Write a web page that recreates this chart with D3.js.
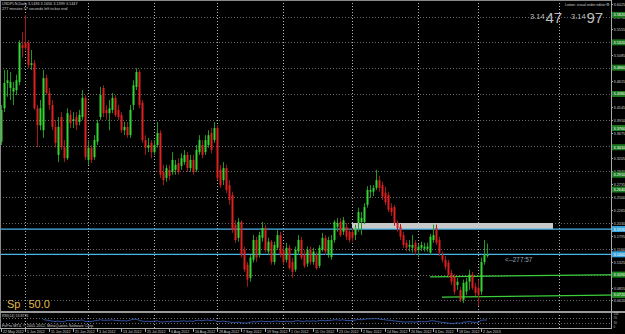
<!DOCTYPE html>
<html>
<head>
<meta charset="utf-8">
<script src="https://cdn.jsdelivr.net/npm/d3@7"></script>
<style>
  html, body { margin: 0; padding: 0; background: #000; }
  svg { display: block; }
  text { font-family: "Liberation Sans", Arial, sans-serif; }
</style>
</head>
<body>
<svg id="chart" width="625" height="334"></svg>
<script>
// USDPLN daily, 22 May 2012 .. 2 Jan 2013
const opens = [
  3.351,3.412,3.458,3.449,3.442,3.445,3.460,3.527,3.531,3.531,
  3.491,3.494,3.412,3.381,3.372,3.467,3.440,3.418,3.378,3.327,
  3.396,3.341,3.321,3.400,3.389,3.396,3.387,3.396,3.431,3.318,
  3.340,3.323,3.351,3.396,3.449,3.409,3.403,3.409,3.431,3.409,
  3.400,3.372,3.378,3.363,3.418,3.451,3.478,3.422,3.354,3.340,
  3.349,3.332,3.345,3.367,3.296,3.285,3.300,3.296,3.300,3.312,
  3.307,3.314,3.327,3.303,3.318,3.300,3.332,3.345,3.332,3.345,
  3.367,3.354,3.376,3.300,3.281,3.303,3.272,3.254,3.200,3.176,
  3.205,3.154,3.127,3.103,3.136,3.172,3.145,3.176,3.194,3.151,
  3.169,3.132,3.158,3.181,3.154,3.136,3.158,3.132,3.118,3.151,
  3.172,3.145,3.129,3.154,3.132,3.145,3.125,3.154,3.176,3.145,
  3.141,3.172,3.196,3.205,3.187,3.196,3.187,3.187,3.181,3.203,
  3.205,3.205,3.236,3.260,3.260,3.267,3.281,3.272,3.258,3.254,
  3.231,3.232,3.203,3.196,3.181,3.167,3.160,3.158,3.167,3.154,
  3.158,3.156,3.156,3.149,3.172,3.194,3.172,3.145,3.136,3.131,
  3.112,3.105,3.090,3.081,3.063,3.078,3.096,3.109,3.087,3.085,
  3.078,3.132,3.1436
];
const highs = [
  3.418,3.482,3.482,3.478,3.460,3.473,3.536,3.551,3.582,3.536,
  3.518,3.500,3.418,3.427,3.482,3.473,3.449,3.427,3.391,3.396,
  3.405,3.354,3.412,3.409,3.405,3.405,3.409,3.445,3.436,3.354,
  3.345,3.363,3.391,3.451,3.454,3.418,3.427,3.440,3.436,3.418,
  3.405,3.387,3.387,3.418,3.463,3.485,3.482,3.427,3.363,3.358,
  3.354,3.354,3.387,3.372,3.309,3.309,3.309,3.332,3.318,3.321,
  3.330,3.336,3.332,3.327,3.327,3.345,3.363,3.354,3.363,3.372,
  3.376,3.387,3.381,3.309,3.314,3.309,3.281,3.260,3.208,3.212,
  3.208,3.160,3.132,3.145,3.181,3.178,3.187,3.205,3.200,3.176,
  3.172,3.169,3.190,3.187,3.160,3.167,3.163,3.140,3.160,3.181,
  3.178,3.154,3.160,3.160,3.158,3.151,3.163,3.185,3.181,3.178,
  3.181,3.208,3.212,3.212,3.214,3.203,3.194,3.194,3.200,3.231,
  3.223,3.239,3.270,3.272,3.272,3.300,3.289,3.278,3.269,3.260,
  3.239,3.236,3.208,3.201,3.187,3.172,3.172,3.181,3.172,3.165,
  3.169,3.167,3.167,3.183,3.200,3.200,3.178,3.151,3.143,3.136,
  3.118,3.110,3.103,3.087,3.100,3.103,3.118,3.114,3.094,3.100,
  3.140,3.172,3.1656
];
const lows = [
  3.345,3.405,3.433,3.427,3.418,3.436,3.454,3.505,3.518,3.485,
  3.482,3.409,3.341,3.372,3.358,3.436,3.409,3.372,3.340,3.314,
  3.336,3.314,3.318,3.376,3.376,3.372,3.381,3.391,3.318,3.309,
  3.312,3.318,3.345,3.391,3.396,3.391,3.372,3.403,3.396,3.391,
  3.367,3.363,3.358,3.358,3.409,3.445,3.412,3.349,3.327,3.332,
  3.321,3.327,3.340,3.285,3.272,3.278,3.281,3.291,3.291,3.291,
  3.300,3.309,3.296,3.296,3.291,3.296,3.327,3.321,3.327,3.340,
  3.330,3.349,3.281,3.267,3.272,3.258,3.236,3.185,3.167,3.169,
  3.140,3.114,3.087,3.096,3.131,3.132,3.140,3.169,3.149,3.145,
  3.127,3.127,3.154,3.140,3.127,3.131,3.118,3.103,3.114,3.145,
  3.136,3.121,3.123,3.127,3.127,3.118,3.121,3.151,3.145,3.140,
  3.136,3.167,3.187,3.178,3.181,3.172,3.167,3.169,3.172,3.187,
  3.181,3.201,3.231,3.249,3.252,3.263,3.260,3.245,3.236,3.223,
  3.216,3.198,3.187,3.172,3.158,3.151,3.151,3.149,3.145,3.141,
  3.152,3.151,3.151,3.145,3.167,3.163,3.143,3.131,3.118,3.103,
  3.090,3.072,3.081,3.059,3.057,3.072,3.081,3.081,3.070,3.052,
  3.072,3.127,3.1399
];
const closes = [
  3.409,3.458,3.463,3.460,3.449,3.463,3.531,3.522,3.522,3.491,
  3.494,3.412,3.381,3.412,3.467,3.440,3.418,3.378,3.349,3.378,
  3.341,3.321,3.403,3.385,3.392,3.381,3.400,3.431,3.323,3.340,
  3.318,3.354,3.385,3.436,3.403,3.403,3.412,3.431,3.400,3.396,
  3.372,3.378,3.363,3.409,3.454,3.478,3.418,3.354,3.340,3.345,
  3.332,3.345,3.367,3.291,3.281,3.303,3.289,3.318,3.309,3.296,
  3.321,3.327,3.303,3.318,3.296,3.336,3.354,3.327,3.354,3.363,
  3.336,3.376,3.285,3.272,3.303,3.263,3.245,3.190,3.172,3.205,
  3.145,3.118,3.100,3.140,3.172,3.140,3.181,3.194,3.154,3.169,
  3.132,3.163,3.181,3.145,3.132,3.158,3.121,3.114,3.154,3.172,
  3.140,3.125,3.154,3.132,3.151,3.121,3.158,3.176,3.151,3.172,
  3.172,3.205,3.203,3.181,3.208,3.178,3.172,3.176,3.194,3.223,
  3.212,3.232,3.263,3.263,3.267,3.281,3.267,3.251,3.241,3.227,
  3.223,3.203,3.194,3.178,3.163,3.158,3.163,3.163,3.151,3.160,
  3.163,3.160,3.160,3.178,3.181,3.167,3.149,3.136,3.123,3.109,
  3.096,3.078,3.096,3.063,3.094,3.096,3.109,3.085,3.076,3.072,
  3.132,3.145,3.1447
];

const priceTicks = [3.6025,3.5790,3.5555,3.5320,3.5085,3.4850,3.4615,3.4380,3.4145,3.3910,
  3.3675,3.3440,3.3205,3.2970,3.2735,3.2500,3.2265,3.2030,3.1795,3.1560,
  3.1325,3.1090,3.0855,3.0620];
const dateLabels = ["22 May 2012","1 Jun 2012","11 Jun 2012","21 Jun 2012","3 Jul 2012","13 Jul 2012",
  "25 Jul 2012","6 Aug 2012","16 Aug 2012","28 Aug 2012","7 Sep 2012","19 Sep 2012","1 Oct 2012",
  "11 Oct 2012","23 Oct 2012","2 Nov 2012","14 Nov 2012","26 Nov 2012","6 Dec 2012","18 Dec 2012","2 Jan 2013"];
const monthStartBars = [8, 29, 51, 72, 94, 117, 139, 159, 186];

const blueLevels = [3.1920, 3.1460];
const greenAxisLevels = [3.5820, 3.5320, 3.4860, 3.4380, 3.3760, 3.3410, 3.2910, 3.2640];
const zoneBars = [117, 184];
const zonePrices = [3.1920, 3.2030];
const trendStartBars = [143, 147];
const trendEndBar = 203;
const trendStartPrices = [3.1050, 3.0680];
const trendEndPrices = [3.1090, 3.0720];

const svg = d3.select("#chart");
const W = 625, H = 334;
const axisX = 611, mainBottom = 311, subTop = 313, subBottom = 327, xAxisY = 328;

const x = d3.scaleLinear().domain([0, 203]).range([1, 610]);
const y = d3.scaleLinear().domain([3.0427, 3.6092]).range([mainBottom, 0]);

svg.append("rect").attr("width", W).attr("height", H).attr("fill", "#000");

svg.append("defs").append("clipPath").attr("id", "mainClip")
  .append("rect").attr("x", 0).attr("y", 0).attr("width", axisX).attr("height", mainBottom);

// grid
svg.append("g").selectAll("line")
  .data(priceTicks.filter((d, i) => i % 2 === 1))
  .enter().append("line")
  .attr("x1", 0).attr("x2", axisX)
  .attr("y1", d => Math.round(y(d)) + 0.5).attr("y2", d => Math.round(y(d)) + 0.5)
  .attr("stroke", "#6a6a6a").attr("stroke-width", 1).attr("stroke-dasharray", "1,2");

svg.append("g").selectAll("line")
  .data(monthStartBars)
  .enter().append("line")
  .attr("x1", d => Math.round(x(d)) + 0.5).attr("x2", d => Math.round(x(d)) + 0.5)
  .attr("y1", 0).attr("y2", xAxisY)
  .attr("stroke", "#b8b8b8").attr("stroke-width", 1).attr("stroke-dasharray", "1,2");

// zone rectangle
svg.append("rect")
  .attr("x", x(zoneBars[0])).attr("y", y(zonePrices[1]))
  .attr("width", x(zoneBars[1]) - x(zoneBars[0]))
  .attr("height", y(zonePrices[0]) - y(zonePrices[1]))
  .attr("fill", "#c8c8c8");

// blue horizontal lines
svg.append("g").selectAll("line")
  .data(blueLevels)
  .enter().append("line")
  .attr("x1", 0).attr("x2", axisX)
  .attr("y1", d => y(d)).attr("y2", d => y(d))
  .attr("stroke", "#4cb4e8").attr("stroke-width", 1.3);

// green trend lines
svg.append("g").selectAll("line")
  .data(trendStartBars)
  .enter().append("line")
  .attr("x1", d => x(d)).attr("x2", x(trendEndBar) + 14)
  .attr("y1", (d, i) => y(trendStartPrices[i])).attr("y2", (d, i) => y(trendEndPrices[i]))
  .attr("stroke", "#3ccf3c").attr("stroke-width", 1.2);

// candles
const bars = d3.range(closes.length);
const candles = svg.append("g").attr("clip-path", "url(#mainClip)");
const up = i => closes[i] >= opens[i];

candles.selectAll("line.wick")
  .data(bars)
  .enter().append("line")
  .attr("class", "wick")
  .attr("x1", i => Math.round(x(i)) + 0.5).attr("x2", i => Math.round(x(i)) + 0.5)
  .attr("y1", i => y(highs[i])).attr("y2", i => y(lows[i]))
  .attr("stroke", i => up(i) ? "#1f9a1f" : "#a01818").attr("stroke-width", 1);

candles.selectAll("rect.body")
  .data(bars)
  .enter().append("rect")
  .attr("class", "body")
  .attr("x", i => Math.round(x(i)) - 0.5)
  .attr("y", i => y(Math.max(opens[i], closes[i])))
  .attr("width", 2)
  .attr("height", i => Math.max(1, Math.abs(y(opens[i]) - y(closes[i]))))
  .attr("fill", i => up(i) ? "#34d334" : "#de2020");

// frame
svg.append("line").attr("x1", 0).attr("x2", axisX).attr("y1", 0.5).attr("y2", 0.5).attr("stroke", "#8a8a8a");
svg.append("line").attr("x1", 0.5).attr("x2", 0.5).attr("y1", 0).attr("y2", xAxisY).attr("stroke", "#8a8a8a");
svg.append("line").attr("x1", axisX + 0.5).attr("x2", axisX + 0.5).attr("y1", 0).attr("y2", xAxisY).attr("stroke", "#a8a8a8");
svg.append("rect").attr("x", 0).attr("y", mainBottom).attr("width", W).attr("height", 2).attr("fill", "#9a9a9a");
svg.append("line").attr("x1", 0).attr("x2", axisX + 1).attr("y1", xAxisY + 0.5).attr("y2", xAxisY + 0.5).attr("stroke", "#a8a8a8");

// price axis
const yAxis = svg.append("g").attr("font-size", 3.8).attr("fill", "#cfcfcf");
priceTicks.forEach(p => {
  const yy = Math.round(y(p)) + 0.5;
  yAxis.append("line").attr("x1", axisX).attr("x2", axisX + 2).attr("y1", yy).attr("y2", yy).attr("stroke", "#a8a8a8");
  yAxis.append("text").attr("x", axisX + 2.5).attr("y", yy + 1.5).text(p.toFixed(4));
});

function axisTag(p, fill) {
  const yy = y(p);
  svg.append("rect").attr("x", axisX + 1).attr("y", yy - 3).attr("width", 13).attr("height", 6).attr("fill", fill);
  svg.append("text").attr("x", axisX + 2.5).attr("y", yy + 1.5).attr("font-size", 3.8)
    .attr("fill", "#ffffff").text(p.toFixed(4));
}
greenAxisLevels.forEach(p => axisTag(p, "#1e7a1e"));
trendEndPrices.forEach(p => axisTag(p, "#1e8a1e"));
blueLevels.forEach(p => axisTag(p, "#3aa6dc"));

// date axis
const xAxis = svg.append("g").attr("font-size", 3.6).attr("fill", "#cfcfcf");
dateLabels.forEach((label, k) => {
  const xx = Math.round(x(k * 8)) + 0.5;
  xAxis.append("line").attr("x1", xx).attr("x2", xx).attr("y1", xAxisY).attr("y2", xAxisY + 4).attr("stroke", "#a8a8a8");
  xAxis.append("text").attr("x", xx + 1.5).attr("y", xAxisY + 4.5).text(label);
});

// RSI(14) sub-window
const rsiPeriod = 14;
const rsi = [];
let avgGain = 0, avgLoss = 0;
for (let i = 1; i < closes.length; i++) {
  const ch = closes[i] - closes[i - 1];
  const g = Math.max(ch, 0), l = Math.max(-ch, 0);
  if (i <= rsiPeriod) {
    avgGain += g / rsiPeriod; avgLoss += l / rsiPeriod;
    if (i === rsiPeriod) rsi.push([i, 100 - 100 / (1 + avgGain / avgLoss)]);
  } else {
    avgGain = (avgGain * (rsiPeriod - 1) + g) / rsiPeriod;
    avgLoss = (avgLoss * (rsiPeriod - 1) + l) / rsiPeriod;
    rsi.push([i, 100 - 100 / (1 + avgGain / avgLoss)]);
  }
}
const yr = d3.scaleLinear().domain([0, 100]).range([subBottom, subTop + 1]);
[70, 30].forEach(v => {
  svg.append("line").attr("x1", 0).attr("x2", axisX)
    .attr("y1", Math.round(yr(v)) + 0.5).attr("y2", Math.round(yr(v)) + 0.5)
    .attr("stroke", "#707070").attr("stroke-dasharray", "1,2");
});
svg.append("path").datum(rsi)
  .attr("d", d3.line().x(d => x(d[0])).y(d => yr(d[1])))
  .attr("fill", "none").attr("stroke", "#3c64c8").attr("stroke-width", 0.8);
[["100", 100], ["70", 70], ["30", 30], ["0", 0]].forEach(([t, v]) => {
  svg.append("text").attr("x", axisX + 2.5).attr("y", yr(v) + 1.2).attr("font-size", 3)
    .attr("fill", "#bdbdbd").text(t);
});
svg.append("text").attr("x", 2).attr("y", 317).attr("font-size", 3.6).attr("fill", "#cfcfcf")
  .text("RSI(14) " + rsi[rsi.length - 1][1].toFixed(4));

// texts
svg.append("text").attr("x", 2).attr("y", 326.5).attr("font-size", 3.8).attr("fill", "#cfcfcf")
  .text("FxPro MT4, \u00a9 2001-2012, MetaQuotes Software Corp.");

const last = closes.length - 1;
svg.append("text").attr("x", 2).attr("y", 5).attr("font-size", 3.8).attr("fill", "#cfcfcf")
  .text("USDPLN,Daily  " + opens[last].toFixed(4) + " " + highs[last].toFixed(4) + " " +
        lows[last].toFixed(4) + " " + closes[last].toFixed(4));
svg.append("text").attr("x", 2).attr("y", 9.5).attr("font-size", 3.8).attr("fill", "#cfcfcf")
  .text("277 minutes 57 seconds left to bar end");

svg.append("text").attr("x", 565).attr("y", 5.5).attr("font-size", 3.6).attr("fill", "#cfcfcf")
  .text("Lotion: visual order editor \u2699");

const bigPrice = [["3.14", "47", 530], ["3.14", "97", 571]];
bigPrice.forEach(([a, b, xx]) => {
  const t = svg.append("text").attr("x", xx).attr("y", 23).attr("fill", "#bdbdbd");
  t.append("tspan").attr("font-size", 7.5).attr("dy", -4.5).text(a);
  t.append("tspan").attr("font-size", 15).attr("dy", 4.5).attr("dx", 0.8).text(b);
});

svg.append("text").attr("x", 505).attr("y", 261.5).attr("font-size", 6.3)
  .attr("font-family", "DejaVu Sans Mono, monospace").attr("fill", "#9aaab8")
  .text("<--277:57");

const sp = svg.append("text").attr("x", 7).attr("y", 308).attr("font-size", 11).attr("fill", "#e0b84a");
sp.append("tspan").text("Sp");
sp.append("tspan").attr("dx", 8).text("50.0");
</script>
</body>
</html>
